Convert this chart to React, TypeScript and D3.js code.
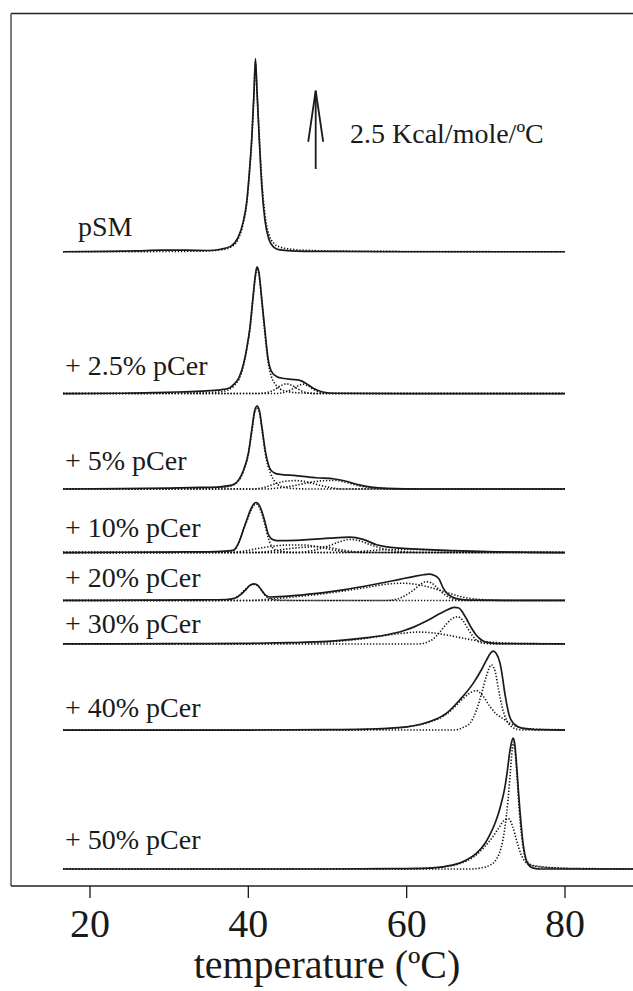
import React from "react";
import * as d3 from "d3";

type Pt = [number, number];

// ---- data (temperature °C, excess Cp in kcal/mol/°C above each trace's baseline) ----
const sampleLabels = ["pSM", "+ 2.5% pCer", "+ 5% pCer", "+ 10% pCer", "+ 20% pCer", "+ 30% pCer", "+ 40% pCer", "+ 50% pCer"];
// vertical stacking offsets (kcal/mol/°C)
const traceOffsets = [19.72, 15.19, 12.14, 10.11, 8.58, 7.19, 4.44, 0];
const xTicks = [20, 40, 60, 80];
const scaleBarValue = 2.5;

const pSM: Pt[] = [[16.6,0],[22,0.01],[26,0.03],[29,0.05],[32,0.05],[35,0.04],[36.5,0.08],[37.8,0.18],[38.7,0.45],[39.3,0.9],[39.8,1.6],[40.15,2.6],[40.45,3.7],[40.7,5.0],[40.9,6.17],[41.1,5.1],[41.4,3.5],[41.7,2.1],[42.1,1.0],[42.6,0.4],[43.2,0.15],[44,0.06],[46,0.02],[50,0.01],[60,0],[80,0]];
const pSM_fit: Pt[][] = [
  [[16.6,0],[22,0],[30,0.01],[34,0.02],[36.5,0.06],[37.8,0.15],[38.7,0.4],[39.3,0.85],[39.8,1.55],[40.15,2.55],[40.45,3.65],[40.7,4.95],[40.9,6.05],[41.1,5.1],[41.4,3.6],[41.7,2.3],[42.1,1.2],[42.6,0.55],[43.2,0.28],[44,0.15],[45.5,0.08],[48,0.04],[52,0.02],[60,0.01],[80,0]],
];

const cer2_5: Pt[] = [[16.6,0],[24,0.01],[28,0.03],[31,0.05],[34,0.08],[36.5,0.12],[37.6,0.18],[38.2,0.3],[38.8,0.5],[39.4,0.95],[39.8,1.45],[40.2,2.1],[40.6,3.1],[40.9,3.8],[41.1,4.05],[41.35,3.85],[41.7,3.0],[42.1,2.0],[42.5,1.1],[42.9,0.72],[43.6,0.54],[44.5,0.48],[45.5,0.45],[46.5,0.42],[47.3,0.32],[48.2,0.17],[49.4,0.05],[51,0.01],[60,0],[80,0]];
const cer2_5_fit: Pt[][] = [
  [[16.6,0],[30,0.01],[35,0.03],[37,0.08],[38.2,0.25],[38.8,0.45],[39.4,0.9],[39.8,1.4],[40.2,2.05],[40.6,3.05],[40.9,3.75],[41.1,4.0],[41.35,3.8],[41.7,2.95],[42.1,1.9],[42.5,1.0],[42.9,0.55],[43.4,0.3],[44,0.15],[45,0.06],[46.5,0.02],[50,0],[80,0]],
  [[16.6,0],[41,0],[42.5,0.04],[43.3,0.12],[44.1,0.25],[44.8,0.31],[45.5,0.26],[46.3,0.14],[47.2,0.04],[48.5,0],[80,0]],
  [[16.6,0],[43.5,0],[44.7,0.05],[45.6,0.15],[46.3,0.25],[46.9,0.3],[47.5,0.25],[48.3,0.12],[49.2,0.03],[50.5,0],[80,0]],
];

const cer5: Pt[] = [[16.6,0],[24,0.01],[30,0.03],[34,0.05],[36.4,0.07],[38.1,0.14],[38.8,0.3],[39.4,0.61],[40.0,1.14],[40.5,2.0],[40.8,2.5],[41.1,2.65],[41.4,2.5],[41.7,2.0],[42.2,1.14],[42.8,0.62],[43.4,0.5],[44,0.47],[46,0.43],[48.6,0.36],[50.9,0.32],[52.5,0.24],[54,0.13],[55.5,0.06],[57.5,0.02],[62,0],[80,0]];
const cer5_fit: Pt[][] = [
  [[16.6,0],[30,0.01],[35,0.03],[37.5,0.08],[38.8,0.27],[39.4,0.58],[40.0,1.1],[40.5,1.95],[40.8,2.45],[41.1,2.6],[41.4,2.45],[41.7,1.95],[42.2,1.05],[42.8,0.5],[43.4,0.22],[44.2,0.08],[45.5,0.02],[48,0],[80,0]],
  [[16.6,0],[40.5,0],[42,0.05],[43.2,0.15],[44.5,0.24],[46,0.27],[47.5,0.22],[49,0.12],[50.5,0.04],[52,0],[80,0]],
  [[16.6,0],[42,0],[44,0.04],[46,0.12],[48,0.22],[50,0.27],[51.2,0.27],[52.5,0.2],[54,0.1],[55.5,0.04],[57.5,0.01],[60,0],[80,0]],
];

const cer10: Pt[] = [[16.6,0],[25,0.01],[32,0.02],[36,0.03],[38.1,0.07],[38.6,0.22],[39.0,0.45],[39.4,0.75],[39.8,1.04],[40.3,1.38],[40.7,1.56],[41.0,1.6],[41.3,1.54],[41.7,1.32],[42.1,0.98],[42.5,0.6],[42.9,0.44],[43.6,0.38],[46,0.39],[48,0.42],[50.3,0.46],[52.8,0.49],[54.5,0.42],[56.2,0.25],[57.5,0.18],[59.1,0.14],[62,0.1],[66,0.06],[70,0.03],[75,0.01],[80,0]];
const cer10_fit: Pt[][] = [
  [[16.6,0],[33,0.01],[37,0.03],[38.3,0.1],[38.8,0.32],[39.3,0.68],[39.8,1.0],[40.3,1.33],[40.7,1.51],[41.0,1.55],[41.3,1.49],[41.7,1.25],[42.1,0.88],[42.5,0.48],[42.9,0.22],[43.5,0.08],[44.5,0.03],[46,0],[80,0]],
  [[16.6,0],[38,0],[39.5,0.05],[41,0.12],[43,0.2],[45,0.24],[47,0.24],[48.5,0.2],[50,0.12],[51.5,0.05],[53,0.01],[55,0],[80,0]],
  [[16.6,0],[41,0],[43,0.05],[45,0.12],[47,0.17],[48.5,0.19],[50,0.17],[51.5,0.1],[53,0.04],[55,0],[80,0]],
  [[16.6,0],[46,0],[48,0.06],[50,0.2],[51.5,0.34],[52.8,0.42],[54,0.38],[55.5,0.24],[57,0.12],[58.5,0.05],[60,0.02],[62,0],[80,0]],
  [[16.6,0],[52,0],[55,0.05],[58,0.1],[61,0.1],[64,0.07],[68,0.04],[72,0.02],[76,0.01],[80,0]],
];

const cer20: Pt[] = [[16.6,0],[26,0.01],[34,0.02],[37.2,0.03],[38.3,0.07],[39.1,0.2],[39.8,0.38],[40.3,0.5],[40.75,0.53],[41.2,0.48],[41.7,0.32],[42.2,0.16],[42.7,0.11],[44,0.12],[46.9,0.18],[49.5,0.25],[52,0.34],[55,0.47],[58.1,0.62],[59.6,0.7],[61,0.77],[62.1,0.82],[62.8,0.84],[63.5,0.8],[64.1,0.68],[64.6,0.4],[65.2,0.2],[65.7,0.12],[66.6,0.04],[68,0.01],[80,0]];
const cer20_fit: Pt[][] = [
  [[16.6,0],[36,0],[37.8,0.04],[38.8,0.15],[39.6,0.35],[40.2,0.48],[40.75,0.51],[41.3,0.44],[41.8,0.27],[42.3,0.12],[43,0.04],[44,0.01],[46,0],[80,0]],
  [[16.6,0],[40,0],[43,0.05],[46,0.12],[49,0.2],[52,0.3],[55,0.42],[57.5,0.52],[59.5,0.55],[61,0.52],[62.5,0.45],[64,0.34],[65.5,0.22],[67,0.11],[68.5,0.05],[70,0.02],[72,0],[80,0]],
  [[16.6,0],[57.5,0],[58.7,0.04],[59.8,0.15],[60.8,0.32],[61.7,0.5],[62.4,0.6],[63.1,0.56],[63.8,0.42],[64.5,0.25],[65.2,0.12],[65.9,0.04],[67,0],[80,0]],
];

const cer30: Pt[] = [[16.6,0],[30,0.01],[40,0.02],[45,0.04],[50,0.08],[52,0.12],[55,0.2],[57,0.27],[59.6,0.42],[60.8,0.53],[62.5,0.73],[64.2,0.97],[65.4,1.12],[66.0,1.17],[66.6,1.15],[67.1,1.0],[67.6,0.78],[68.2,0.5],[68.8,0.28],[69.5,0.12],[70.1,0.05],[72,0.01],[80,0]];
const cer30_fit: Pt[][] = [
  [[16.6,0],[40,0],[45,0.02],[50,0.06],[54,0.15],[57,0.26],[59.5,0.34],[61.5,0.38],[63,0.36],[65,0.29],[67,0.19],[69,0.1],[71,0.05],[73.5,0.02],[76,0.01],[80,0]],
  [[16.6,0],[61.5,0],[62.5,0.05],[63.3,0.15],[64.1,0.35],[64.9,0.6],[65.7,0.8],[66.4,0.87],[67.1,0.75],[67.7,0.5],[68.3,0.27],[68.9,0.1],[69.6,0.03],[71,0],[80,0]],
];

const cer40: Pt[] = [[16.6,0],[40,0],[50,0.01],[55,0.03],[58,0.06],[60,0.1],[62.9,0.27],[65,0.53],[66.7,0.96],[68.4,1.49],[69.5,1.95],[70.1,2.24],[70.6,2.46],[70.95,2.52],[71.3,2.45],[71.8,2.13],[72.1,1.7],[72.4,1.17],[72.7,0.75],[73.0,0.43],[73.4,0.24],[73.9,0.13],[74.6,0.06],[75.6,0.03],[77,0.01],[80,0]];
const cer40_fit: Pt[][] = [
  [[16.6,0],[50,0],[55,0.02],[58,0.05],[60,0.1],[62.9,0.25],[65,0.5],[66.7,0.9],[67.8,1.15],[68.8,1.26],[69.6,1.1],[70.5,0.76],[71.3,0.52],[72.2,0.36],[73,0.22],[73.9,0.11],[75,0.05],[77,0.02],[80,0.01]],
  [[16.6,0],[66,0],[67.1,0.08],[68,0.22],[68.8,0.62],[69.5,1.2],[70.1,1.75],[70.7,2.08],[71.2,1.85],[71.6,1.3],[72.0,0.8],[72.4,0.45],[72.9,0.2],[73.4,0.08],[74,0.02],[75,0],[80,0]],
];

const cer50: Pt[] = [[16.6,0],[50,0],[58,0.01],[62.9,0.03],[64.5,0.07],[65.9,0.13],[67.5,0.28],[68.8,0.5],[69.8,0.78],[70.5,1.09],[71.1,1.42],[71.6,1.78],[72.0,2.15],[72.4,2.6],[72.75,3.2],[73.0,3.7],[73.25,4.05],[73.45,4.18],[73.65,4.0],[73.9,3.27],[74.1,2.55],[74.3,1.88],[74.5,1.3],[74.7,0.82],[74.9,0.5],[75.1,0.29],[75.5,0.1],[76,0.03],[77,0],[88.6,0]];
const cer50_fit: Pt[][] = [
  [[16.6,0],[58,0],[62,0.02],[64.5,0.06],[66,0.12],[67.5,0.25],[68.8,0.45],[69.8,0.7],[70.8,1.0],[71.6,1.3],[72.3,1.55],[72.9,1.6],[73.4,1.35],[73.9,0.9],[74.4,0.5],[74.9,0.25],[75.5,0.14],[76.5,0.09],[78,0.05],[80,0.02],[84,0.01],[88.6,0]],
  [[16.6,0],[68,0],[69.5,0.04],[70.5,0.12],[71.3,0.3],[71.9,0.65],[72.4,1.3],[72.8,2.2],[73.1,3.1],[73.35,3.85],[73.5,4.05],[73.7,3.75],[73.95,2.9],[74.2,1.95],[74.5,1.1],[74.8,0.55],[75.2,0.25],[75.8,0.12],[77,0.06],[79,0.03],[82,0.01],[88.6,0]],
];

const measured: Pt[][] = [pSM, cer2_5, cer5, cer10, cer20, cer30, cer40, cer50];
const fits: Pt[][][] = [pSM_fit, cer2_5_fit, cer5_fit, cer10_fit, cer20_fit, cer30_fit, cer40_fit, cer50_fit];

// ---- layout ----
const W = 633, H = 991;
const FRAME = { left: 11, top: 13.5, bottom: 886 };
const labelX = [78, 65, 65, 65, 65, 65, 65, 65];
const labelLift = [16, 18.5, 19, 15.7, 13.5, 11, 13, 20];
const FONT = "'Liberation Serif', 'Times New Roman', Times, serif";
const INK = "#1a1a1a";

export default function App() {
  const x = d3.scaleLinear().domain([20, 80]).range([90, 565]);
  const y = d3.scaleLinear().domain([0, 25]).range([869, 869 - 25 * 31.3]);

  const lineFor = (off: number) =>
    d3.line<Pt>()
      .x((d) => x(d[0]))
      .y((d) => y(off + d[1]))
      .curve(d3.curveMonotoneX);

  const arrowX = 315.7;
  const arrowBottom = 169;
  const arrowTop = y(y.invert(arrowBottom) + scaleBarValue);

  return (
    <svg width={W} height={H} style={{ position: "absolute", left: 0, top: 0, background: "#fff" }}>
      {/* frame */}
      <line x1={FRAME.left} x2={W} y1={FRAME.top} y2={FRAME.top} stroke="#222" strokeWidth={1.6} />
      <line x1={FRAME.left} x2={FRAME.left} y1={FRAME.top} y2={FRAME.bottom} stroke="#444" strokeWidth={1.4} />
      <line x1={FRAME.left} x2={W} y1={FRAME.bottom} y2={FRAME.bottom} stroke="#222" strokeWidth={1.4} />

      {/* ticks */}
      {xTicks.map((t) => (
        <g key={t}>
          <line x1={x(t)} x2={x(t)} y1={FRAME.bottom} y2={FRAME.bottom + 12} stroke={INK} strokeWidth={1.3} />
          <text x={x(t)} y={937} textAnchor="middle" fontFamily={FONT} fontSize={40} fill={INK}>{t}</text>
        </g>
      ))}
      <text x={327} y={978} textAnchor="middle" fontFamily={FONT} fontSize={40} fill={INK}>temperature (ºC)</text>

      {/* traces */}
      {measured.map((pts, i) => {
        const gen = lineFor(traceOffsets[i]);
        return (
          <g key={i}>
            {fits[i].map((c, j) => (
              <path key={j} d={gen(c) || ""} fill="none" stroke="#111" strokeWidth={1.6} strokeDasharray="1.3 1.8" />
            ))}
            <path d={gen(pts) || ""} fill="none" stroke={INK} strokeWidth={1.7} />
            <text x={labelX[i]} y={y(traceOffsets[i]) - labelLift[i]} fontFamily={FONT} fontSize={28} fill={INK}>
              {sampleLabels[i]}
            </text>
          </g>
        );
      })}

      {/* scale bar */}
      <g stroke={INK} strokeWidth={1.8} fill="none">
        <line x1={arrowX} x2={arrowX} y1={arrowBottom} y2={arrowTop} />
        <polyline points={`${arrowX - 7.5},${arrowTop + 51} ${arrowX},${arrowTop} ${arrowX + 7.5},${arrowTop + 51}`} />
      </g>
      <text x={350} y={142.7} fontFamily={FONT} fontSize={28} fill={INK}>{`${scaleBarValue} Kcal/mole/ºC`}</text>
    </svg>
  );
}
